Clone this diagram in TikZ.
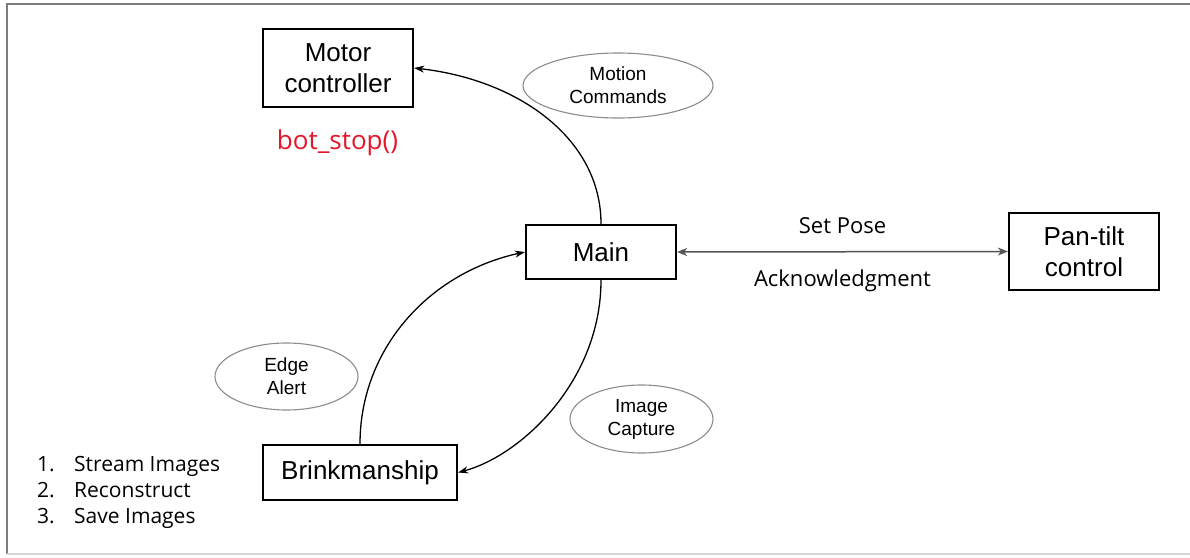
\documentclass[tikz,border=0pt]{standalone}
\usepackage{fontspec}
\setmainfont{Liberation Sans}
\newfontfamily\opensans{Open Sans}
\usetikzlibrary{arrows.meta,shapes.geometric}
\definecolor{alertred}{RGB}{228,22,40}
\definecolor{framegray}{RGB}{125,125,125}
\definecolor{framelight}{RGB}{215,215,215}
\definecolor{ellgray}{RGB}{140,140,140}
\definecolor{linkgray}{RGB}{85,85,85}
\begin{document}
\begin{tikzpicture}[x=1pt,y=-1pt,
  box/.style={draw=black, line width=2.2pt, inner sep=0pt, align=center,
    font=\fontsize{26}{31}\selectfont},
  bubble/.style={draw=ellgray, line width=1.1pt, ellipse, inner sep=0pt, align=center,
    font=\fontsize{19}{23}\selectfont},
  flow/.style={line width=1.3pt, -{Stealth[length=10pt,width=7pt,inset=3pt]}},
  link/.style={draw=linkgray, line width=1.5pt,
    {Stealth[length=10pt,width=8pt,inset=3pt]}-{Stealth[length=10pt,width=8pt,inset=3pt]}},
  linklabel/.style={font=\opensans\fontsize{22}{26}\selectfont, anchor=base, inner sep=0pt},
  listitem/.style={font=\opensans\fontsize{21}{26}\selectfont, anchor=base west, inner sep=0pt},
  note/.style={font=\opensans\fontsize{26}{30}\selectfont, text=alertred, anchor=base, inner sep=0pt}
]
\useasboundingbox (0,0) rectangle (1190,557);
\fill[white] (0,0) rectangle (1190,557);
% frame
\draw[framegray, line width=2pt] (7,554) -- (7,4) -- (1190,4);
\draw[framelight, line width=1.2pt] (7,554) -- (1190,554);

% boxes
\node[box, minimum width=150pt, minimum height=78pt] (motor) at (338,68) {Motor\\controller};
\node[box, minimum width=150pt, minimum height=54pt] (main) at (601,252) {Main};
\node[box, minimum width=150pt, minimum height=77pt] (pan) at (1084,251.5) {Pan-tilt\\control};
\node[box, minimum width=194pt, minimum height=55pt] (brink) at (360,472.5) {Brinkmanship};

% bubbles
\node[bubble, minimum width=190pt, minimum height=65pt] (motion) at (618,85.5) {Motion\\Commands};
\node[bubble, minimum width=143pt, minimum height=67pt] (edge) at (286.5,376.5) {Edge\\Alert};
\node[bubble, minimum width=143pt, minimum height=68pt] (capture) at (641.5,419) {Image\\Capture};

% red note
\node[note] (botstop) at (337.5,149) {bot\_stop()};

% connectors
\draw[flow] (main.north) .. controls +(0,-85) and +(105,12) .. (motor.east);
\draw[flow] (brink.north) .. controls +(0,-95) and +(-96,21) .. (main.west);
\draw[flow] (main.south) .. controls +(0,101) and +(63,-17) .. (brink.east);
\draw[link] (main.east) -- node[linklabel, yshift=18pt] (setpose) {Set Pose}
  node[linklabel, yshift=-35pt] (ack) {Acknowledgment} (pan.west);

% list
\node[listitem] (l1) at (37,471) {\makebox[37pt][l]{1.}Stream Images};
\node[listitem] (l2) at (37,497) {\makebox[37pt][l]{2.}Reconstruct};
\node[listitem] (l3) at (37,523) {\makebox[37pt][l]{3.}Save Images};
\end{tikzpicture}
\end{document}
